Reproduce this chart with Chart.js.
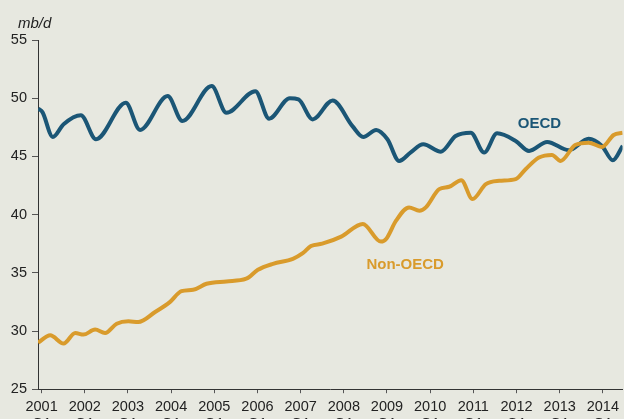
<!DOCTYPE html>
<html>
<head>
<meta charset="utf-8">
<script src="https://cdn.jsdelivr.net/npm/chart.js@4.4.0/dist/chart.umd.min.js"></script>
<style>
  html, body { margin: 0; padding: 0; background: #e7e8e0; overflow: hidden; }
  #wrap { width: 624px; height: 438px; position: relative; }
</style>
</head>
<body>
<div id="wrap"><canvas id="oilChart"></canvas></div>
<script>
// Datos (mb/d)
const years = [2001, 2002, 2003, 2004, 2005, 2006, 2007, 2008, 2009, 2010, 2011, 2012, 2013, 2014];
const yTicks = [25, 30, 35, 40, 45, 50, 55];

const oecdDates = [2000.92, 2001.02, 2001.26, 2001.51, 2001.91, 2002.26, 2002.95, 2003.28, 2003.92, 2004.26,
  2004.94, 2005.28, 2005.95, 2006.27, 2006.75, 2006.95, 2007.28, 2007.74, 2008.2, 2008.45,
  2008.75, 2009.01, 2009.28, 2009.55, 2009.84, 2010.25, 2010.59, 2010.94, 2011.25, 2011.55,
  2011.98, 2012.29, 2012.71, 2013.21, 2013.67, 2013.98, 2014.23, 2014.46];
const oecdValues = [49.1, 48.8, 46.67, 47.76, 48.53, 46.47, 49.6, 47.27, 50.18, 48.04,
  51.04, 48.75, 50.6, 48.24, 50.0, 49.9, 48.18, 49.8, 47.6, 46.67,
  47.27, 46.47, 44.61, 45.35, 46.04, 45.41, 46.75, 47.04, 45.33, 46.98,
  46.33, 45.47, 46.24, 45.53, 46.52, 45.9, 44.67, 45.9];

const nonOecdDates = [2000.92, 2001.2, 2001.51, 2001.78, 2001.97, 2002.24, 2002.47, 2002.74, 2003.01, 2003.24,
  2003.63, 2003.97, 2004.24, 2004.51, 2004.82, 2005.28, 2005.74, 2006.01, 2006.36, 2006.82,
  2007.05, 2007.24, 2007.5, 2007.94, 2008.44, 2008.86, 2008.98, 2009.21, 2009.51, 2009.75,
  2009.9, 2010.21, 2010.44, 2010.72, 2010.98, 2011.29, 2011.6, 2011.98, 2012.21, 2012.52,
  2012.82, 2013.02, 2013.36, 2013.67, 2013.98, 2014.25, 2014.46];
const nonOecdValues = [29.0, 29.63, 28.92, 29.83, 29.69, 30.12, 29.83, 30.63, 30.83, 30.77,
  31.63, 32.48, 33.42, 33.54, 34.06, 34.26, 34.49, 35.26, 35.77, 36.2,
  36.68, 37.3, 37.5, 38.11, 39.2, 37.68, 37.91, 39.48, 40.62, 40.33,
  40.62, 42.19, 42.39, 42.96, 41.33, 42.62, 42.9, 43.05, 43.9, 44.9,
  45.13, 44.61, 45.98, 46.18, 45.81, 46.84, 47.04];

const oecdColor = '#1b5676';
const nonOecdColor = '#d99b2c';
const fontFamily = '"Liberation Sans", Arial, sans-serif';

function toPoints(dates, values) {
  return dates.map((d, i) => ({ x: d, y: values[i] }));
}

// Textos: unidad y nombres de las series
const textPlugin = {
  id: 'seriesText',
  afterDraw(chart) {
    const { ctx, scales: { x, y } } = chart;
    ctx.save();
    ctx.fillStyle = '#222';
    ctx.font = 'italic 15px ' + fontFamily;
    ctx.textAlign = 'left';
    ctx.textBaseline = 'alphabetic';
    ctx.fillText('mb/d', 18, 28);
    ctx.font = 'bold 15px ' + fontFamily;
    ctx.textAlign = 'center';
    ctx.textBaseline = 'middle';
    ctx.fillStyle = oecdColor;
    ctx.fillText('OECD', x.getPixelForValue(2012.53), y.getPixelForValue(47.83));
    ctx.fillStyle = nonOecdColor;
    ctx.fillText('Non-OECD', x.getPixelForValue(2009.42), y.getPixelForValue(35.71));
    ctx.restore();
  }
};

const ctx = document.getElementById('oilChart').getContext('2d');
const oilChart = new Chart(ctx, {
  type: 'line',
  data: {
    datasets: [
      {
        label: 'Non-OECD',
        data: toPoints(nonOecdDates, nonOecdValues),
        borderColor: nonOecdColor,
        borderWidth: 4,
        pointRadius: 0,
        cubicInterpolationMode: 'monotone',
        fill: false
      },
      {
        label: 'OECD',
        data: toPoints(oecdDates, oecdValues),
        borderColor: oecdColor,
        borderWidth: 4,
        pointRadius: 0,
        cubicInterpolationMode: 'monotone',
        fill: false
      }
    ]
  },
  options: {
    responsive: true,
    maintainAspectRatio: false,
    animation: false,
    layout: { padding: { top: 40, right: 0, bottom: 0, left: 0 } },
    plugins: { legend: { display: false }, tooltip: { enabled: false } },
    scales: {
      x: {
        type: 'linear',
        min: 2000.917,
        max: 2014.455,
        afterBuildTicks: (scale) => { scale.ticks = years.map(v => ({ value: v })); },
        ticks: {
          autoSkip: false,
          maxRotation: 0,
          padding: 5,
          color: '#222',
          font: { family: fontFamily, size: 14.5 },
          callback: (v) => [String(v), 'Q1']
        },
        grid: { drawOnChartArea: false, drawTicks: true, tickLength: 4, color: '#555' },
        border: { display: true, color: '#333', width: 1 }
      },
      y: {
        min: 25,
        max: 55,
        afterBuildTicks: (scale) => { scale.ticks = yTicks.map(v => ({ value: v })); },
        afterFit: (scale) => { scale.width = 38; },
        ticks: {
          padding: 5,
          color: '#222',
          font: { family: fontFamily, size: 14.5 }
        },
        grid: { drawOnChartArea: false, drawTicks: true, tickLength: 6, color: '#555' },
        border: { display: true, color: '#333', width: 1 }
      }
    }
  },
  plugins: [textPlugin]
});
</script>
</body>
</html>
